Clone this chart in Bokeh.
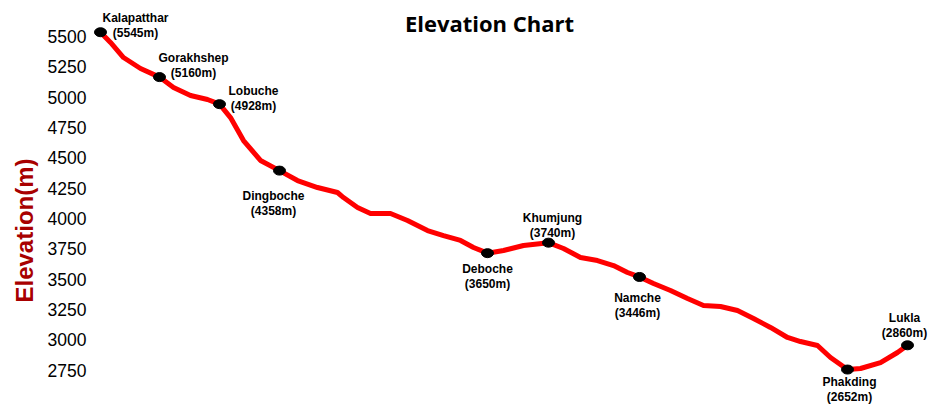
import math
from bokeh.plotting import figure
from bokeh.models import Range1d, LinearAxis, FixedTicker, Label, Title, ColumnDataSource
from bokeh.core.properties import value
from bokeh.embed import file_html
from bokeh.resources import INLINE

# ---- data ----
stations = ["Kalapatthar", "Gorakhshep", "Lobuche", "Dingboche", "Deboche",
            "Khumjung", "Namche", "Phakding", "Lukla"]
station_elev = [5545, 5160, 4928, 4358, 3650, 3740, 3446, 2652, 2860]
station_dist = [0, 5.9, 11.9, 17.9, 38.7, 44.8, 53.9, 74.7, 80.7]

# trail profile (red line)
trail_dist = [0, 1.0, 2.3, 4.0, 5.9, 7.3, 9.0, 10.7, 11.9, 13.0, 14.3, 16.0, 17.9,
              19.7, 21.7, 23.7, 24.3, 25.7, 27.0, 29.0, 30.7, 32.7, 34.3, 36.0, 37.3,
              38.7, 40.3, 42.3, 44.8, 46.3, 48.0, 49.7, 51.3, 52.7, 53.9, 55.3, 57.0,
              58.7, 60.3, 62.0, 63.7, 65.3, 67.0, 68.7, 70.0, 71.7, 73.0, 74.7, 76.0,
              78.0, 79.7, 80.7]
trail_elev = [5545, 5457, 5328, 5234, 5160, 5071, 5002, 4968, 4928, 4813, 4616, 4445, 4358,
              4273, 4213, 4170, 4127, 4042, 3990, 3990, 3930, 3844, 3801, 3759, 3699,
              3650, 3673, 3716, 3740, 3690, 3613, 3587, 3544, 3484, 3446, 3390, 3330,
              3261, 3201, 3193, 3158, 3090, 3013, 2927, 2892, 2858, 2755, 2652, 2661,
              2712, 2798, 2860]

y_ticks = [2750, 3000, 3250, 3500, 3750, 4000, 4250, 4500, 4750, 5000, 5250, 5500]

# ---- label placement (styling, screen px) ----
name_dx = [35, 34, 34, -6, 0, 4, -2, 2, -3]
name_dy = [-14, -19, -13, 25, 16, -25, 21, 12, -27]
line_gap = 15

src = ColumnDataSource(dict(
    dist=station_dist,
    elev=station_elev,
    name=stations,
    elev_txt=["(%dm)" % e for e in station_elev],
    ndx=name_dx,
    ndy=name_dy,
    edy=[d + line_gap for d in name_dy],
))

p = figure(width=942, height=406,
           x_range=Range1d(-0.8, 84.2), y_range=Range1d(2335, 5817),
           x_axis_location=None, y_axis_location=None,
           min_border_left=92, min_border_right=0, min_border_top=0, min_border_bottom=0,
           output_backend="svg", toolbar_location=None)
p.outline_line_color = None
p.grid.grid_line_color = None
p.background_fill_color = "white"
p.border_fill_color = "white"

p.extra_y_ranges = {"ticks": Range1d(2452, 5794.5)}
ax = LinearAxis(y_range_name="ticks", ticker=FixedTicker(ticks=y_ticks))
ax.axis_line_color = None
ax.major_tick_line_color = None
ax.minor_tick_line_color = None
ax.major_tick_out = 0
ax.major_tick_in = 0
ax.major_label_standoff = 6
ax.major_label_text_font = "Liberation Sans"
ax.major_label_text_font_size = "17.5px"
ax.major_label_text_color = "black"
p.add_layout(ax, "left")

p.add_layout(Title(text="Elevation(m)", align="left", offset=104, standoff=14,
                   text_font="Liberation Sans", text_font_style="bold",
                   text_font_size="24px", text_color="#a80000"), "left")

p.line(trail_dist, trail_elev, line_color="#ff0000", line_width=5,
       line_join="round", line_cap="round")
p.ellipse(x="dist", y="elev", width=12, height=9, width_units="screen",
          height_units="screen", fill_color="black", line_color="black", source=src)

p.text(x="dist", y="elev", text="name", x_offset="ndx", y_offset="ndy", source=src,
       text_font=value("Liberation Sans"), text_font_style="bold", text_font_size="12px",
       text_align="center", text_baseline="middle", text_color="black")
p.text(x="dist", y="elev", text="elev_txt", x_offset="ndx", y_offset="edy", source=src,
       text_font=value("Liberation Sans"), text_font_style="bold", text_font_size="12px",
       text_align="center", text_baseline="middle", text_color="black")

p.add_layout(Label(x=38.9, y=5628, text="Elevation Chart", text_font="Open Sans",
                   text_font_style="bold", text_font_size="22px", text_align="center",
                   text_baseline="middle", text_color="black"))

open("out.html", "w").write(file_html(p, INLINE))
